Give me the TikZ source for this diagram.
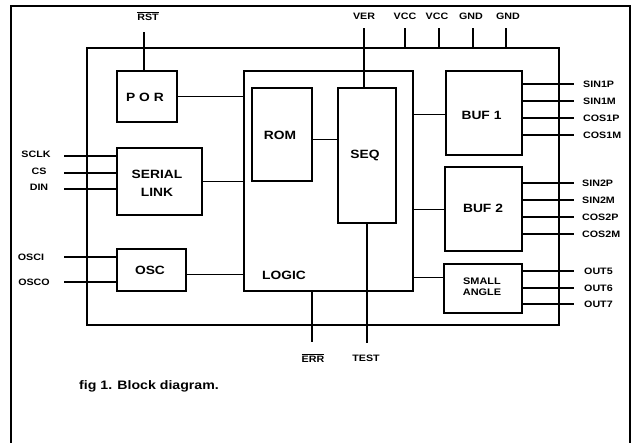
\documentclass[tikz,border=0pt]{standalone}
\usepackage{fontspec}
\setmainfont[FakeStretch=1.15]{Liberation Sans}
\begin{document}
\begin{tikzpicture}[x=1pt,y=-1pt,
  pin/.style={line width=2pt},
  wire/.style={line width=1pt},
  blk/.style={draw,line width=2pt,inner sep=0pt},
  lbl/.style={font=\bfseries\fontsize{9.3}{10}\selectfont,inner sep=0pt},
  rlbl/.style={lbl,anchor=west},
  big/.style={font=\bfseries\fontsize{12}{13}\selectfont,inner sep=0pt},
  mid/.style={font=\bfseries\fontsize{9.5}{10}\selectfont,inner sep=0pt,align=center}
]
\useasboundingbox (0,0) rectangle (632,442);
% outer frame (open at the bottom)
\draw[line width=2pt] (11,443) -- (11,6) -- (629.5,6) -- (629.5,443);
% chip
\draw[line width=2pt] (87,48) rectangle (559,325);
% blocks
\node[blk,minimum width=60pt,minimum height=51pt] (por) at (147,96.5) {};
\node[big] at (145,97) {P O R};
\node[blk,line width=1.6pt,minimum width=169pt,minimum height=220pt] (logic) at (328.5,181) {};
\node[big,anchor=west] at (262,275) {LOGIC};
\node[blk,minimum width=60pt,minimum height=93pt] (rom) at (282,134.5) {};
\node[big] at (280,135) {ROM};
\node[blk,minimum width=58pt,minimum height=135pt] (seq) at (367,155.5) {};
\node[big] at (365,155) {SEQ};
\node[blk,minimum width=85pt,minimum height=67pt] (ser) at (159.5,181.5) {};
\node[big,align=center] at (157,183) {SERIAL\\[5pt]LINK};
\node[blk,minimum width=69pt,minimum height=42pt] (osc) at (151.5,270) {};
\node[big] at (150,270) {OSC};
\node[blk,minimum width=76pt,minimum height=84pt] (buf1) at (484,113) {};
\node[big] at (481.5,115) {BUF 1};
\node[blk,minimum width=77pt,minimum height=84pt] (buf2) at (483.5,209) {};
\node[big] at (483,208) {BUF 2};
\node[blk,minimum width=78pt,minimum height=49pt] (sa) at (483,288.5) {};
\node[mid] at (482,287) {SMALL\\[1pt]ANGLE};
% internal wires
\draw[wire] (por.east) -- (por.east -| logic.west);
\draw[wire] (rom.east |- 0,139) -- (seq.west |- 0,139);
\draw[wire] (ser.east) -- (ser.east -| logic.west);
\draw[wire] (osc.east |- 0,274) -- (logic.west |- 0,274);
\draw[wire] (logic.east |- 0,114) -- (buf1.west |- 0,114);
\draw[wire] (logic.east |- 0,209) -- (buf2.west |- 0,209);
\draw[wire] (logic.east |- 0,277) -- (sa.west |- 0,277);
% top pins
\coordinate (rstp) at (144,32);
\coordinate (verp) at (364,28);
\draw[pin] (rstp) -- (por.north -| rstp);
\draw[pin] (verp) -- (seq.north -| verp);
\foreach \x in {405,439,473,506}{\draw[pin] (\x,28) -- (\x,48);}
\node[lbl] at (148,16) {$\overline{\mbox{RST}}$};
\node[lbl] at (364,16) {VER};
\node[lbl] at (405,16) {VCC};
\node[lbl] at (437,16) {VCC};
\node[lbl] at (471,16) {GND};
\node[lbl] at (508,16) {GND};
% bottom pins
\coordinate (errp) at (312,342);
\coordinate (testp) at (367,343);
\draw[pin] (logic.south -| errp) -- (errp);
\draw[pin] (seq.south -| testp) -- (testp);
\node[lbl] at (313,358) {$\overline{\mbox{ERR}}$};
\node[lbl] at (366,358) {TEST};
% left pins
\foreach \y/\t/\c in {156/SCLK/36,173/CS/39,189/DIN/39}{
  \coordinate (p\t) at (64,\y);
  \draw[pin] (p\t) -- (ser.west |- p\t);
  \node[lbl] at (\c,\y-2) {\t};
}
\foreach \y/\t/\c in {257/OSCI/31,282/OSCO/34}{
  \coordinate (p\t) at (64,\y);
  \draw[pin] (p\t) -- (osc.west |- p\t);
  \node[lbl] at (\c,\y) {\t};
}
% right pins
\foreach \y/\t in {84/SIN1P,101/SIN1M,118/COS1P,135/COS1M}{
  \coordinate (p\t) at (574,\y);
  \draw[pin] (buf1.east |- p\t) -- (p\t);
  \node[rlbl] at (583,\y) {\t};
}
\foreach \y/\t in {183/SIN2P,200/SIN2M,217/COS2P,234/COS2M}{
  \coordinate (p\t) at (574,\y);
  \draw[pin] (buf2.east |- p\t) -- (p\t);
  \node[rlbl] at (582,\y) {\t};
}
\foreach \y/\t in {271/OUT5,288/OUT6,304/OUT7}{
  \coordinate (p\t) at (574,\y);
  \draw[pin] (sa.east |- p\t) -- (p\t);
  \node[rlbl] at (584,\y) {\t};
}
\node[font=\bfseries\fontsize{12.3}{14}\selectfont,anchor=west,inner sep=0pt] at (79,386) {fig 1. Block diagram.};
\end{tikzpicture}
\end{document}
